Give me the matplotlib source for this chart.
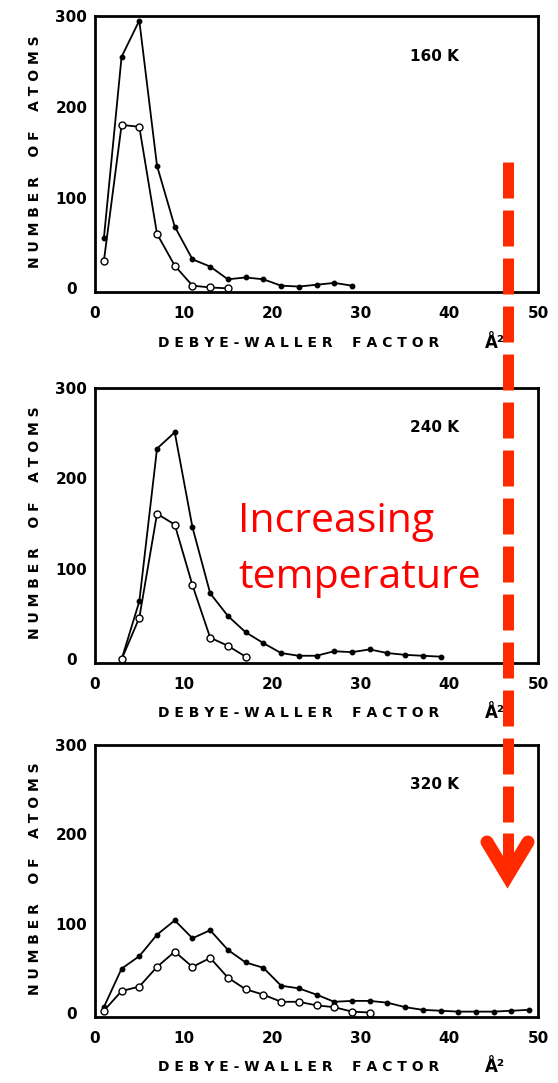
import matplotlib
matplotlib.use("Agg")
import matplotlib.pyplot as plt
from matplotlib.lines import Line2D

# Valeurs (facteur de Debye-Waller, nombre d'atomes)
x_160_full = [1, 3, 5, 7, 9, 11, 13, 15, 17, 19, 21, 23, 25, 27, 29]
y_160_full = [55, 255, 295, 135, 68, 32, 24, 10, 12, 10, 3, 2, 4, 6, 3]
x_160_open = [1, 3, 5, 7, 9, 11, 13, 15]
y_160_open = [30, 180, 178, 60, 25, 3, 1, 0]

x_240_full = [3, 5, 7, 9, 11, 13, 15, 17, 19, 21, 23, 25, 27, 29, 31, 33, 35, 37, 39]
y_240_full = [0, 64, 233, 251, 146, 73, 48, 30, 18, 7, 4, 4, 9, 8, 11, 7, 5, 4, 3]
x_240_open = [3, 5, 7, 9, 11, 13, 15, 17]
y_240_open = [0, 46, 161, 149, 82, 24, 15, 3]

x_320_full = [1, 3, 5, 7, 9, 11, 13, 15, 17, 19, 21, 23, 25, 27, 29, 31, 33,
              35, 37, 39, 41, 43, 45, 47, 49]
y_320_full = [7, 50, 64, 88, 104, 84, 93, 71, 57, 51, 31, 28, 21, 13, 14, 14, 12,
              7, 4, 3, 2, 2, 2, 3, 4]
x_320_open = [1, 3, 5, 7, 9, 11, 13, 15, 17, 19, 21, 23, 25, 27, 29, 31]
y_320_open = [3, 25, 30, 52, 69, 52, 62, 40, 27, 21, 13, 13, 9, 7, 2, 1]

temperatures = ["160 K", "240 K", "320 K"]
x_ticks = [0, 10, 20, 30, 40, 50]
y_ticks = [0, 100, 200, 300]

W, H = 558, 1083
# positions des cadres en pixels (haut, bas)
panel_px = [(16, 292), (388, 663), (745, 1017)]
left_px, right_px = 95, 538

plt.rcParams['font.family'] = ['DejaVu Sans']
plt.rcParams['font.weight'] = 'bold'

fig = plt.figure(figsize=(W / 100, H / 100), dpi=100)

series = [
    (x_160_full, y_160_full, x_160_open, y_160_open),
    (x_240_full, y_240_full, x_240_open, y_240_open),
    (x_320_full, y_320_full, x_320_open, y_320_open),
]

for (top, bottom), (xf, yf, xo, yo), temp in zip(panel_px, series, temperatures):
    ax = fig.add_axes([left_px / W, 1 - bottom / H,
                       (right_px - left_px) / W, (bottom - top) / H])
    ax.plot(xf, yf, color='black', lw=1.3, marker='o', ms=3.2)
    ax.plot(xo, yo, color='black', lw=1.3, marker='o', ms=5,
            mfc='white', mec='black', mew=1.0)
    ax.set_xlim(0, 50)
    ax.set_ylim(-4, 300)
    ax.set_xticks(x_ticks)
    ax.set_yticks(y_ticks)
    ax.tick_params(length=0, labelsize=11)
    ax.tick_params(axis='y', pad=17)
    ax.tick_params(axis='x', pad=10)
    for lbl in ax.get_yticklabels():
        lbl.set_ha('center')
    for s in ax.spines.values():
        s.set_linewidth(2.0)

    ax.set_xlabel("D E B Y E - W A L L E R    F A C T O R", fontsize=10,
                  fontweight='bold', va='center')
    ax.xaxis.set_label_coords(0.46, -0.183)
    ax.text(0.903, -0.183, "Å²", transform=ax.transAxes, fontsize=12,
            fontweight='bold', ha='center', va='center')
    ax.set_ylabel("N U M B E R    O F    A T O M S", fontsize=10,
                  fontweight='bold', va='center')
    ax.yaxis.set_label_coords(-0.135, 0.51)
    ax.text(0.767, 0.855, temp, transform=ax.transAxes, fontsize=11,
            fontweight='bold', ha='center', va='center')


def px(x, y):
    return x / W, 1 - y / H


# flèche rouge en pointillés
red = '#ff2a00'
lw = 11 * 0.72
(x0, y0), (x1, y1) = px(507.5, 162), px(507.5, 822)
fig.add_artist(Line2D([x0, x1], [y0, y1], color=red, lw=lw,
                      dashes=(36 / 11, 12 / 11), solid_capstyle='butt'))
(sx0, sy0), (sx1, sy1) = px(507.5, 833), px(507.5, 876)
fig.add_artist(Line2D([sx0, sx1], [sy0, sy1], color=red, lw=lw,
                      solid_capstyle='butt'))
pts = [px(487, 842), px(507.5, 876), px(528, 842)]
fig.add_artist(Line2D([p[0] for p in pts], [p[1] for p in pts], color=red,
                      lw=13 * 0.72, solid_capstyle='round',
                      solid_joinstyle='miter'))

fig.text(238 / W, 1 - 532 / H, "Increasing", color='#ff0000', fontsize=29.5,
         family='Open Sans', weight='normal', ha='left', va='baseline')
fig.text(238 / W, 1 - 588 / H, "temperature", color='#ff0000', fontsize=29.5,
         family='Open Sans', weight='normal', ha='left', va='baseline')

fig.savefig("out.png", dpi=100)
